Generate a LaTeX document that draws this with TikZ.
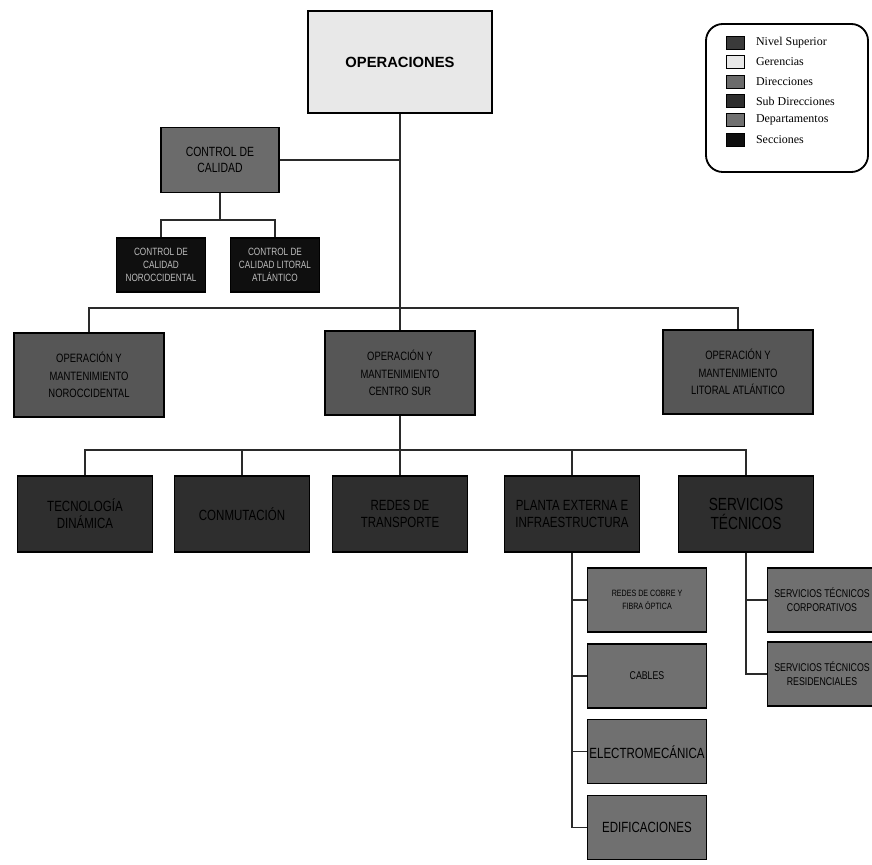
\documentclass[tikz,border=0pt]{standalone}
\usepackage{fontspec}
\setmainfont{Liberation Sans}
\newfontfamily\narrowfont[FakeStretch=0.78]{Liberation Sans}
\newfontfamily\legendfont{Liberation Serif}
\usetikzlibrary{positioning}
\definecolor{gerencia}{HTML}{E8E8E8}
\definecolor{direccion}{HTML}{6B6B6B}
\definecolor{subdir}{HTML}{565656}
\definecolor{unidad}{HTML}{2E2E2E}
\definecolor{depto}{HTML}{707070}
\definecolor{seccion}{HTML}{0F0F0F}
\definecolor{nivel}{HTML}{3A3A3A}
\definecolor{linea}{HTML}{2A2A2A}
\definecolor{textoclaro}{HTML}{BDBDBD}
\begin{document}
\begin{tikzpicture}[x=0.025cm, y=-0.025cm,
  box/.style={draw=black, line width=0.8pt, align=center, inner sep=1pt, font=\narrowfont\fontsize{8.6}{12.5}\selectfont},
  gerbox/.style={box, fill=gerencia, line width=1.6pt, minimum width=4.6cm, minimum height=2.55cm, font=\bfseries\fontsize{10.5}{12}\selectfont},
  dirbox/.style={box, fill=direccion, minimum width=2.95cm, minimum height=1.62cm, font=\narrowfont\fontsize{9.5}{11}\selectfont},
  secbox/.style={box, fill=seccion, text=textoclaro, minimum width=2.22cm, minimum height=1.35cm, font=\narrowfont\fontsize{7.5}{9}\selectfont},
  subbox/.style={box, fill=subdir, minimum width=3.75cm, minimum height=2.1cm},
  unibox/.style={box, fill=unidad, minimum width=3.38cm, minimum height=1.9cm, font=\narrowfont\fontsize{10.5}{12}\selectfont},
  depbox/.style={box, fill=depto, minimum width=2.98cm, minimum height=1.6cm, font=\narrowfont\fontsize{6.5}{9}\selectfont},
  bigdep/.style={font=\narrowfont\fontsize{10.5}{12}\selectfont},
  edgebox/.style={depbox, minimum width=2.72cm, font=\narrowfont\fontsize{8}{10}\selectfont},
  swatch/.style={draw=black, line width=0.5pt, minimum width=0.45cm, minimum height=0.32cm, inner sep=0pt},
  leglabel/.style={inner sep=1pt, font=\legendfont\fontsize{8.5}{10}\selectfont},
  link/.style={draw=linea, line width=0.8pt},
]
\useasboundingbox (0,0) rectangle (872,865);
\clip (0,0) rectangle (872,865);

% top
\node[gerbox] (ops) at (400,62) {OPERACIONES};
\node[dirbox] (calidad) at (220,160) {CONTROL DE\\CALIDAD};
\node[secbox] (calnor) at (161,265) {CONTROL DE\\CALIDAD\\NOROCCIDENTAL};
\node[secbox] (callit) at (275,265) {CONTROL DE\\CALIDAD LITORAL\\ATLÁNTICO};

% operacion y mantenimiento
\node[subbox] (omnor) at (89,375) {OPERACIÓN Y\\MANTENIMIENTO\\NOROCCIDENTAL};
\node[subbox] (omcen) at (400,373) {OPERACIÓN Y\\MANTENIMIENTO\\CENTRO SUR};
\node[subbox] (omlit) at (738,372) {OPERACIÓN Y\\MANTENIMIENTO\\LITORAL ATLÁNTICO};

% unidades centro sur
\node[unibox] (tecno) at (85,514) {TECNOLOGÍA\\DINÁMICA};
\node[unibox] (conmu) at (242,514) {CONMUTACIÓN};
\node[unibox] (redes) at (400,514) {REDES DE\\TRANSPORTE};
\node[unibox] (planta) at (572,514) {PLANTA EXTERNA E\\INFRAESTRUCTURA};
\node[unibox, font=\narrowfont\fontsize{12.5}{14}\selectfont] (servtec) at (746,514) {SERVICIOS\\TÉCNICOS};

% departamentos
\node[depbox] (cobre) at (647,600) {REDES DE COBRE Y\\FIBRA ÓPTICA};
\node[depbox, below=0.27cm of cobre, font=\narrowfont\fontsize{8}{9}\selectfont] (cables) {CABLES};
\node[depbox, below=0.27cm of cables, bigdep] (electro) {ELECTROMECÁNICA};
\node[depbox, below=0.27cm of electro, bigdep] (edif) {EDIFICACIONES};
\node[edgebox] (corp) at (822,600) {SERVICIOS TÉCNICOS\\CORPORATIVOS};
\node[edgebox, below=0.22cm of corp] (resid) {SERVICIOS TÉCNICOS\\RESIDENCIALES};

% leyenda
\node[draw=black, line width=1.3pt, rounded corners=12pt, minimum width=4.05cm, minimum height=3.7cm] (legbox) at (787,98) {};
\node[swatch, fill=nivel] (sw1) at (735,43) {};
\node[swatch, fill=gerencia] (sw2) at (735,62) {};
\node[swatch, fill=direccion] (sw3) at (735,82) {};
\node[swatch, fill=unidad] (sw4) at (735,101) {};
\node[swatch, fill=depto] (sw5) at (735,120) {};
\node[swatch, fill=seccion] (sw6) at (735,140) {};
\node[leglabel, right=0.25cm of sw1] (lab1) {Nivel Superior};
\node[leglabel, right=0.25cm of sw2] (lab2) {Gerencias};
\node[leglabel, right=0.25cm of sw3] (lab3) {Direcciones};
\node[leglabel, right=0.25cm of sw4] (lab4) {Sub Direcciones};
\node[leglabel, right=0.25cm of sw5] (lab5) {Departamentos};
\node[leglabel, right=0.25cm of sw6] (lab6) {Secciones};

% conectores
\coordinate (bus1) at (400,308);
\coordinate (bus2) at (400,450);
\coordinate (calbus) at (220,220);
\draw[link] (ops.south) -- (omcen.north);
\draw[link] (calidad.east) -- (calidad.east -| ops.south);
\draw[link] (calidad.south) -- (calbus);
\draw[link] (calnor.north) |- (calbus) -| (callit.north);
\draw[link] (omnor.north) |- (bus1) -| (omlit.north);
\draw[link] (omcen.south) -- (redes.north);
\draw[link] (tecno.north) |- (bus2) -| (servtec.north);
\draw[link] (conmu.north) -- (conmu.north |- bus2);
\draw[link] (planta.north) -- (planta.north |- bus2);
\draw[link] (planta.south) |- (edif.west);
\draw[link] (planta.south |- cobre.west) -- (cobre.west);
\draw[link] (planta.south |- cables.west) -- (cables.west);
\draw[link] (planta.south |- electro.west) -- (electro.west);
\draw[link] (servtec.south) |- (resid.west);
\draw[link] (servtec.south |- corp.west) -- (corp.west);
\end{tikzpicture}
\end{document}
